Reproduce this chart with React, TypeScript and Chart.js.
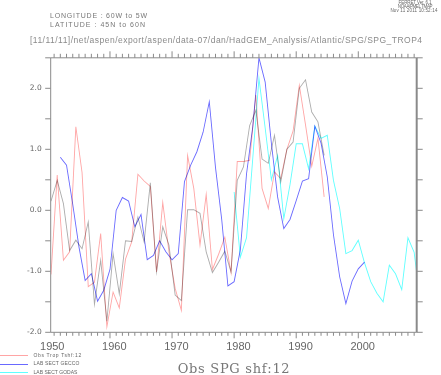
import React, { useEffect, useRef } from "react";
import { Chart, registerables } from "chart.js";

Chart.register(...registerables);

// ---------------- data ----------------
// annual means, plotted at mid-year
const obsStartYear = 1950;
const obsTropTshf = [
  -1.05, 0.58, -0.82, -0.68, 1.37, 0.62, -1.25, -1.18, -0.38, -1.91,
  -1.34, -1.6, -0.8, -0.52, 0.59, 0.48, 0.39, -1.01, 0.13, -0.68,
  -1.28, -1.64, 0.9, 0.36, -0.57, 0.26, -0.97, -0.72, -0.44, -1.02,
  0.8, 0.8, 0.82, 1.89, 0.36, 0.03, 0.63, 0.52, 1.0, 1.3,
  2.05, 1.4, 0.72, 1.18, 0.22,
];
const obsSpgShf = [
  0.15, 0.49, 0.11, -0.66, -0.49, -0.63, -0.19, -1.54, -0.82, -1.82,
  -0.71, -1.37, -0.5, -0.51, -0.11, -0.52, 0.45, -1.01, -0.27, -0.57,
  -1.39, -1.48, 0.01, 0.01, -0.05, -0.68, -1.02, -0.85, -0.67, -1.01,
  0.49, 0.71, 1.39, 1.64, 0.84, 0.77, 1.23, 0.46, 1.0, 1.12,
  2.0, 2.14, 1.61, 1.45, 0.9,
];
// plotted at the start of each year
const geccoStartYear = 1952;
const labSectGecco = [
  0.87, 0.74, 0.1, -0.6, -1.15, -1.04, -1.49, -1.31, -0.97, 0.0,
  0.21, 0.15, -0.27, -0.07, -0.81, -0.74, -0.5, -0.68, -0.81, -0.71,
  0.47, 0.74, 0.96, 1.28, 1.78, 0.7, -0.15, -1.24, -1.17, -0.65,
  0.6, 1.37, 2.5, 2.1, 1.1, 0.22, -0.3, -0.15, 0.16, 0.48,
  0.52, 1.38, 1.1, 0.55, -0.4, -1.09, -1.53, -1.16, -0.96, -0.85,
];
const godasStartYear = 1980;
const labSectGodas = [
  0.3, -0.77, -0.45, 0.85, 2.16, 1.35, 0.5, 0.9, -0.14, 0.42,
  1.09, 1.09, 0.68, 1.38, 1.18, 1.23, 0.49, 0.03, -0.71, -0.66,
  -0.49, -0.86, -1.17, -1.36, -1.5, -0.9, -1.04, -1.3, -0.45, -0.69,
  -1.5,
];
const xTickLabels = [1950, 1960, 1970, 1980, 1990, 2000];
const yTickLabels = [-2, -1, 0, 1, 2];

// ---------------- style ----------------
const W = 441;
const H = 375;
const AXIS = "#8a8a8a";
const SANS = '"Liberation Sans", Arial, sans-serif';
const PINK = "rgb(255,165,165)";
const GRAY = "rgb(172,172,172)";
const BLUE = "rgb(105,105,255)";
const CYAN = "rgb(95,255,255)";
const LABEL_SHIFT = 0.7;

function toPoints(start: number, offset: number, vals: number[]) {
  return vals.map((v, i) => ({ x: start + i + offset, y: v }));
}

let measureCtx: CanvasRenderingContext2D | null = null;
function fitSpacing(text: string, font: string, target: number): number {
  if (!measureCtx) measureCtx = document.createElement("canvas").getContext("2d");
  if (!measureCtx) return 0;
  measureCtx.font = font;
  const w = measureCtx.measureText(text).width;
  return (target - w) / Math.max(1, text.length - 1);
}

type TProps = {
  text: string;
  x: number;
  cy: number;
  size: number;
  family?: string;
  color: string;
  width?: number;
  align?: "left" | "center";
};
function T({ text, x, cy, size, family = SANS, color, width, align = "left" }: TProps) {
  const font = `${size}px ${family}`;
  const ls = width ? fitSpacing(text, font, width) : 0;
  const style: React.CSSProperties = {
    position: "absolute",
    top: cy - size / 2,
    lineHeight: `${size}px`,
    fontSize: size,
    fontFamily: family,
    color,
    whiteSpace: "nowrap",
    letterSpacing: `${ls}px`,
  };
  if (align === "left") {
    style.left = x;
  } else {
    style.left = x - 200;
    style.width = 400;
    style.textAlign = "center";
  }
  return <div style={style}>{text}</div>;
}

const bgPlugin = {
  id: "bg",
  beforeDraw(chart: any) {
    const ctx = chart.ctx;
    ctx.save();
    ctx.fillStyle = "#fff";
    ctx.fillRect(0, 0, chart.width, chart.height);
    ctx.restore();
  },
};

const blendPlugin = {
  id: "blend",
  beforeDatasetsDraw(chart: any) {
    chart.ctx.save();
    chart.ctx.globalCompositeOperation = "multiply";
  },
  afterDatasetsDraw(chart: any) {
    chart.ctx.restore();
  },
};

const framePlugin = {
  id: "frame",
  afterDraw(chart: any) {
    const { ctx, chartArea: a, scales } = chart;
    const xs = scales.x;
    const ys = scales.y;
    ctx.save();
    ctx.strokeStyle = AXIS;
    ctx.lineWidth = 1;
    ctx.beginPath();
    ctx.moveTo(a.left, a.bottom);
    ctx.lineTo(a.left, a.top);
    ctx.lineTo(a.right, a.top);
    ctx.moveTo(a.left, a.bottom);
    ctx.lineTo(a.right, a.bottom);
    for (let yr = Math.ceil(xs.min); yr <= Math.floor(xs.max); yr++) {
      const px = xs.getPixelForValue(yr);
      const major = yr % 10 === 0;
      ctx.moveTo(px, a.bottom);
      ctx.lineTo(px, a.bottom + (major ? 6 : 3.5));
      ctx.moveTo(px, a.top);
      ctx.lineTo(px, a.top - (major ? 6.5 : 4));
    }
    for (let v = -2; v <= 2.5 + 1e-9; v += 0.5) {
      const py = ys.getPixelForValue(v);
      ctx.moveTo(a.left, py);
      ctx.lineTo(a.left - 5.5, py);
      ctx.moveTo(a.right, py);
      ctx.lineTo(a.right + 6, py);
    }
    ctx.stroke();
    ctx.lineWidth = 2;
    ctx.beginPath();
    ctx.moveTo(a.right, a.top);
    ctx.lineTo(a.right, a.bottom);
    ctx.stroke();
    ctx.restore();
  },
};

export default function App() {
  const ref = useRef<HTMLCanvasElement>(null);

  useEffect(() => {
    if (!ref.current) return;
    const line = (label: string, data: any[], color: string) => ({
      label,
      data,
      borderColor: color,
      backgroundColor: color,
      borderWidth: 0.9,
      pointRadius: 0,
      tension: 0,
      fill: false,
    });
    const chart = new Chart(ref.current, {
      type: "line",
      data: {
        datasets: [
          line("Obs SPG shf:12", toPoints(obsStartYear, 0.5, obsSpgShf), GRAY),
          line("Obs Trop Tshf:12", toPoints(obsStartYear, 0.5, obsTropTshf), PINK),
          line("LAB SECT GECCO", toPoints(geccoStartYear, 0, labSectGecco), BLUE),
          line("LAB SECT GODAS", toPoints(godasStartYear, 0, labSectGodas), CYAN),
        ],
      },
      options: {
        animation: false,
        responsive: false,
        events: [],
        layout: { padding: { top: 57.8, right: 24.3, left: 0, bottom: 0 } },
        plugins: {
          legend: { display: false },
          tooltip: { enabled: false },
          title: { display: false },
        },
        scales: {
          x: {
            type: "linear",
            min: 1950.45,
            max: 2009.41,
            grid: { display: false, drawTicks: false },
            border: { display: false },
            afterBuildTicks: (s: any) => {
              s.ticks = xTickLabels.map((v) => ({ value: v + LABEL_SHIFT }));
            },
            afterFit: (s: any) => {
              s.height = 42.7;
            },
            ticks: {
              autoSkip: false,
              maxRotation: 0,
              minRotation: 0,
              padding: 8,
              color: "#666",
              font: { family: SANS, size: 11 },
              callback: (v: any) => String(Math.round(Number(v) - LABEL_SHIFT)),
            },
          },
          y: {
            type: "linear",
            min: -2,
            max: 2.5,
            grid: { display: false, drawTicks: false },
            border: { display: false },
            afterBuildTicks: (s: any) => {
              s.ticks = yTickLabels.map((v) => ({ value: v }));
            },
            afterFit: (s: any) => {
              s.width = 50.7;
            },
            ticks: {
              padding: 9,
              color: "#666",
              font: { family: '"DejaVu Sans", sans-serif', size: 7.5 },
              callback: (v: any) => Number(v).toFixed(1),
            },
          },
        },
      },
      plugins: [bgPlugin, blendPlugin, framePlugin],
    } as any);
    return () => chart.destroy();
  }, []);

  return (
    <div
      style={{
        position: "fixed",
        left: 0,
        top: 0,
        width: W,
        height: H,
        background: "#fff",
        overflow: "hidden",
      }}
    >
      <canvas
        ref={ref}
        width={W}
        height={H}
        style={{ position: "absolute", left: 0, top: 0, width: W, height: H }}
      />
      <T text="FERRET Ver. 6.1" x={415} cy={3} size={4.5} color="#666" width={33} align="center" />
      <T text="NOAA/PMEL TMAP" x={415} cy={7.2} size={4.5} color="#666" width={35} align="center" />
      <T text="Nov 11 2011 10:52:14" x={414} cy={11.3} size={4.5} color="#666" width={47} align="center" />
      <T text="LONGITUDE : 60W to 5W" x={50} cy={15} size={7} color="#777" width={97} />
      <T text="LATITUDE : 45N to 60N" x={50} cy={24} size={7} color="#777" width={95} />
      <T
        text="[11/11/11]/net/aspen/export/aspen/data-07/dan/HadGEM_Analysis/Atlantic/SPG/SPG_TROP4"
        x={30}
        cy={40.5}
        size={8.5}
        color="#8a8a8a"
        width={392}
      />
      <div style={{ position: "absolute", left: 0, top: 355, width: 28, height: 1, background: PINK }} />
      <div style={{ position: "absolute", left: 0, top: 363.5, width: 28, height: 1, background: BLUE }} />
      <div style={{ position: "absolute", left: 0, top: 372, width: 28, height: 1, background: CYAN }} />
      <T text="Obs Trop Tshf:12" x={33.5} cy={355.3} size={5} color="#666" width={48} />
      <T text="LAB SECT GECCO" x={33.5} cy={363.7} size={5} color="#666" width={46} />
      <T text="LAB SECT GODAS" x={33.5} cy={372.3} size={5} color="#666" width={44} />
      <T
        text="Obs SPG shf:12"
        x={234}
        cy={368.8}
        size={13}
        family='"DejaVu Serif", serif'
        color="#777"
        width={112}
        align="center"
      />
    </div>
  );
}
